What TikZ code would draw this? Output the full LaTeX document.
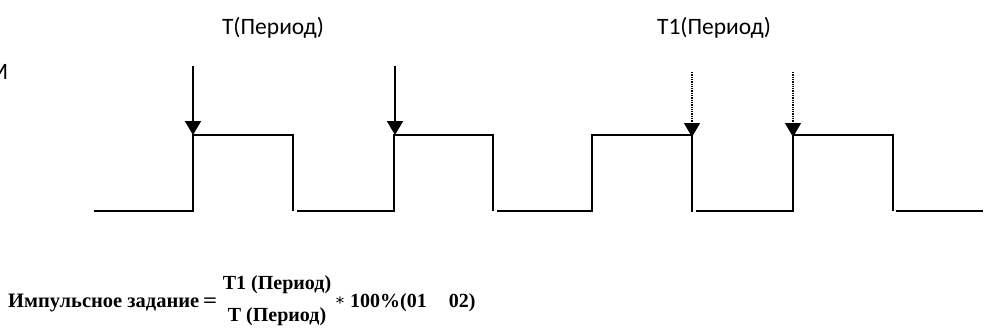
\documentclass[tikz,border=0pt]{standalone}
\usepackage{fontspec}
\setmainfont{Carlito}
\newfontfamily\formfont{Liberation Serif}
\newfontfamily\symfont{DejaVu Serif}
\usetikzlibrary{arrows.meta}
\tikzset{
  wave/.style={line width=2pt},
  solidarrow/.style={line width=2pt,-{Triangle[width=16pt,length=14pt]}},
  dotarrow/.style={line width=1.3pt,dash pattern=on 1.3pt off 1pt,-{Triangle[width=16pt,length=14pt]}},
  lbl/.style={font=\fontsize{23.5}{28}\selectfont,inner sep=0pt},
  form/.style={font=\formfont\bfseries\fontsize{20}{24}\selectfont,inner sep=0pt},
  formbig/.style={font=\formfont\bfseries\fontsize{20.5}{24}\selectfont,inner sep=0pt}
}
\begin{document}
\begin{tikzpicture}[x=1pt,y=-1pt]
\useasboundingbox (0,0) rectangle (984,329);
% labels
\node[lbl] (tlab) at (273,28) {T(Период)};
\node[lbl] (t1lab) at (714,28) {T1(Период)};
\node[lbl,anchor=east] (mlab) at (8.5,72) {М};
% waveform
\draw[wave] (94,211) -| (193,135) -| (293,211);
\draw[wave] (297,211) -| (394,135) -| (493,211);
\draw[wave] (497,211) -| (592,135) -| (692,212);
\draw[wave] (696,211) -| (793,135) -| (893,211);
\draw[wave] (896,211) -- (983,211);
% arrows
\coordinate (a1s) at (193,66);  \coordinate (a1e) at (193,135);
\coordinate (a2s) at (395,66);  \coordinate (a2e) at (395,135);
\coordinate (a3s) at (692,72);  \coordinate (a3e) at (692,137);
\coordinate (a4s) at (793,72);  \coordinate (a4e) at (793,137);
\draw[solidarrow] (a1s) -- (a1e);
\draw[solidarrow] (a2s) -- (a2e);
\draw[dotarrow] (a3s) -- (a3e);
\draw[dotarrow] (a4s) -- (a4e);
% formula
\node[formbig,anchor=west] (fl) at (8,303) {Импульсное задание};
\node[formbig,anchor=west] (feq) at (203,303) {\scalebox{1.2}[1]{=}};
\node[form] (fn) at (277,285) {T1 (Период)};
\node[form] (fd) at (277,317) {T (Период)};
\node[font=\symfont\fontsize{16}{17}\selectfont,inner sep=0pt] (fstar) at (340,301) {∗};
\node[form,anchor=west] (fr) at (350,303) {100\%(01\hspace{22pt}02)};
\end{tikzpicture}
\end{document}
